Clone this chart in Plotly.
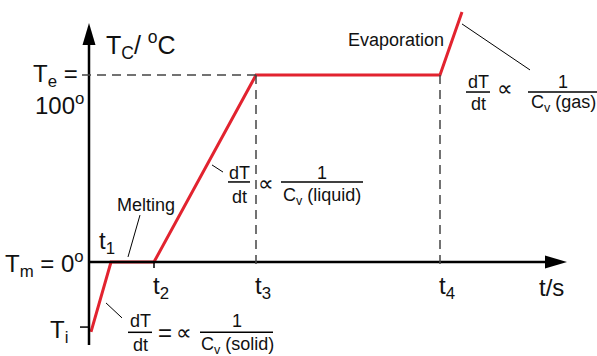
import plotly.graph_objects as go

# heating curve: time (arbitrary units) and temperature (deg C)
times = [2, 22, 65, 167, 351, 373]
temps = [-37.4, 0, 0, 100, 100, 133.7]
T_i = -34.8          # level of the T_i tick on the axis
T_e = 100
t_marks = {"t<sub>1</sub>": 22, "t<sub>2</sub>": 65, "t<sub>3</sub>": 167, "t<sub>4</sub>": 351}

RED = "#e2232f"
FONT = "Liberation Sans, Arial, sans-serif"
x_end, y_top, y_bot = 478, 127.8, -44.4
ax_w = 6.5          # arrow half width in x units (px)
ay_h = 6.5 / 1.87   # arrow half height in y units

fig = go.Figure()
fig.add_trace(go.Scatter(x=times, y=temps, mode="lines",
                         line=dict(color=RED, width=3), hoverinfo="skip"))

shapes = []
def line(x0, y0, x1, y1, w=1, color="black", dash=None):
    shapes.append(dict(type="line", xref="x", yref="y", x0=x0, y0=y0, x1=x1, y1=y1,
                       line=dict(color=color, width=w, dash=dash)))

# axes
line(0, y_bot, 0, 116, w=2.5)
line(0, 0, 456, 0, w=2.5)
shapes.append(dict(type="path", xref="x", yref="y", fillcolor="black", line=dict(width=0),
                   path=f"M {-ax_w},116 L 0,{y_top} L {ax_w},116 Z"))
shapes.append(dict(type="path", xref="x", yref="y", fillcolor="black", line=dict(width=0),
                   path=f"M 456,{-ay_h} L {x_end},0 L 456,{ay_h} Z"))

# dashed guides
DASH = "9px,6px"
line(-7, T_e, times[3], T_e, w=1.5, color="#444", dash=DASH)
line(times[3], T_e, times[3], -3.2, w=1.5, color="#444", dash=DASH)
line(times[4], T_e, times[4], -3.2, w=1.5, color="#444", dash=DASH)
# small ticks
line(-9, T_i, 0, T_i, w=1.5)
line(times[2], 0, times[2], -3.2, w=1.5)

# leader lines
line(17, -21.9, 33, -29.9)
line(51, 25.1, 39, 2.7)
line(123, 51.9, 134, 48.1)
line(373, 127.3, 441, 102.7)

# fraction bars
for x0, x1, y in [(139, 161, 42.8), (192, 274, 42.8),
                  (377, 401, 90.9), (439, 515, 90.9),
                  (39, 63, -37.6), (111, 184, -37.6)]:
    line(x0, y, x1, y, w=1.5)

ann = []
def txt(x, y, s, size=24, xa="center", ya="middle"):
    ann.append(dict(x=x, y=y, xref="x", yref="y", text=s, showarrow=False,
                    xanchor=xa, yanchor=ya, font=dict(size=size, color="#111", family=FONT)))

txt(15, 116.0, "T<sub>C</sub>/ <sup>o</sup>C", xa="left", size=25)
txt(-9, 99.5, "T<sub>e</sub> =", xa="right")
txt(-3, 84.5, "100<sup>o</sup>", xa="right")
txt(-3, -1.1, "T<sub>m</sub> = 0<sup>o</sup>", xa="right")
txt(-19, -36.9, "T<sub>i</sub>", xa="right")
txt(18, 10.2, "t<sub>1</sub>")
for lab, t in t_marks.items():
    if lab != "t<sub>1</sub>":
        txt(t + 7, -13.4, lab)
txt(462, -13.9, "t/s")
txt(57, 30.5, "Melting", size=18)
txt(307, 118.7, "Evaporation", size=18)

# formulas
FS = 18
for (xn, xc, yn, yd, tail, xp, yp, x1, extra) in [
        (150, 233, 47.6, 34.8, "(liquid)", 177, 42.2, None, None),
        (389, 474, 96.3, 84.5, "(gas)", 416, 93.0, 440, None),
        (51, 148, -31.8, -44.6, "(solid)", 95, -37.6, None, 76)]:
    txt(xn, yn, "dT", size=FS)
    txt(xn, yd, "dt", size=FS)
    txt(xp, yp, "∝", size=FS + 4)
    if extra is not None:
        txt(extra, yp, "=", size=FS + 6)
    txt(xc, yn, "1", size=FS)
    if x1 is None:
        txt(xc, yd, "C<sub>v</sub> " + tail, size=FS)
    else:
        txt(x1, yd, "C<sub>v</sub> " + tail, size=FS, xa="left")

fig.update_layout(
    width=597, height=356, margin=dict(l=0, r=0, t=0, b=0),
    paper_bgcolor="white", plot_bgcolor="white", showlegend=False,
    xaxis=dict(range=[-89, 508], visible=False, fixedrange=True),
    yaxis=dict(range=[-50.27, 140.11], visible=False, fixedrange=True),
    shapes=shapes, annotations=ann,
)
fig.write_html("out.html", config={"displayModeBar": False},
               post_script="document.body.style.margin='0';document.body.style.overflow='hidden';")
